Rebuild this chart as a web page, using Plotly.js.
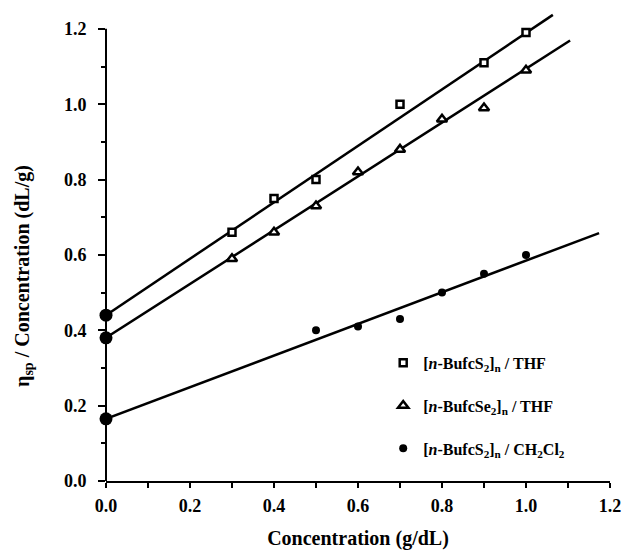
<!DOCTYPE html>
<html>
<head>
<meta charset="utf-8">
<script src="https://cdn.plot.ly/plotly-3.0.1.min.js"></script>
<style>html,body{margin:0;padding:0;background:#fff;}#chart{width:623px;height:551px;}</style>
</head>
<body>
<div id="chart"></div>
<script>
// Data
const concS2THF = [0.3, 0.4, 0.5, 0.7, 0.9, 1.0];
const etaS2THF = [0.66, 0.75, 0.80, 1.00, 1.11, 1.19];
const concSe2THF = [0.3, 0.4, 0.5, 0.6, 0.7, 0.8, 0.9, 1.0];
const etaSe2THF = [0.59, 0.66, 0.73, 0.82, 0.88, 0.96, 0.99, 1.09];
const concS2CH2Cl2 = [0.5, 0.6, 0.7, 0.8, 0.9, 1.0];
const etaS2CH2Cl2 = [0.40, 0.41, 0.43, 0.50, 0.55, 0.60];
const interceptX = [0, 0, 0];
const interceptY = [0.44, 0.38, 0.165];
const fitS2THFx = [0, 1.064];
const fitS2THFy = [0.44, 1.237];
const fitSe2THFx = [0, 1.105];
const fitSe2THFy = [0.38, 1.169];
const fitS2CH2Cl2x = [0, 1.174];
const fitS2CH2Cl2y = [0.165, 0.658];
const xTickVals = [0, 0.2, 0.4, 0.6, 0.8, 1.0, 1.2];
const yTickVals = [0, 0.2, 0.4, 0.6, 0.8, 1.0, 1.2];
const legendNames = [
  '[<i>n</i>-BufcS<sub>2</sub>]<sub>n</sub> / THF',
  '[<i>n</i>-BufcSe<sub>2</sub>]<sub>n</sub> / THF',
  '[<i>n</i>-BufcS<sub>2</sub>]<sub>n</sub> / CH<sub>2</sub>Cl<sub>2</sub>'
];

const FONT = 'Liberation Serif, Times New Roman, serif';
const lineStyle = {color: '#000', width: 2.5};

const traces = [
  {x: fitS2THFx, y: fitS2THFy, mode: 'lines', line: lineStyle, showlegend: false, hoverinfo: 'skip'},
  {x: fitSe2THFx, y: fitSe2THFy, mode: 'lines', line: lineStyle, showlegend: false, hoverinfo: 'skip'},
  {x: fitS2CH2Cl2x, y: fitS2CH2Cl2y, mode: 'lines', line: lineStyle, showlegend: false, hoverinfo: 'skip'},
  {x: concS2THF, y: etaS2THF, mode: 'markers', name: legendNames[0], legendgroup: 'a', cliponaxis: false,
   marker: {symbol: 'square', size: 7, color: '#fff', line: {color: '#000', width: 2.5}}},
  {x: concSe2THF, y: etaSe2THF, mode: 'markers', name: legendNames[1], legendgroup: 'b', cliponaxis: false,
   marker: {symbol: 'triangle-up', size: 9, color: '#fff', line: {color: '#000', width: 2.5}}},
  {x: concS2CH2Cl2, y: etaS2CH2Cl2, mode: 'markers', name: legendNames[2], legendgroup: 'c', cliponaxis: false,
   marker: {symbol: 'circle', size: 8, color: '#000'}},
  {x: interceptX, y: interceptY, mode: 'markers', showlegend: false, cliponaxis: false,
   marker: {symbol: 'circle', size: 13, color: '#000'}}
];

const axisCommon = {
  showgrid: false, zeroline: false,
  ticks: 'outside', ticklen: 7, tickwidth: 2, tickcolor: '#000',
  tickfont: {family: FONT, size: 18, color: '#000', weight: 'bold'},
  tickformat: '.1f',
  minor: {ticks: 'outside', ticklen: 4, tickwidth: 2, tickcolor: '#000', dtick: 0.1, showgrid: false}
};

const layout = {
  width: 623, height: 551,
  margin: {l: 106, r: 13, t: 10, b: 70, pad: 0},
  paper_bgcolor: '#fff', plot_bgcolor: '#fff',
  font: {family: FONT, color: '#000'},
  xaxis: Object.assign({}, axisCommon, {
    range: [0, 1.2], tickmode: 'array', tickvals: xTickVals,
    showline: true, linecolor: '#000', linewidth: 2, ticklen: 5,
    minor: {ticks: 'outside', ticklen: 5, tickwidth: 2, tickcolor: '#000', dtick: 0.1, showgrid: false},
    ticklabelstandoff: 2,
    title: {text: 'Concentration (g/dL)', font: {family: FONT, size: 20, color: '#000', weight: 'bold'}, standoff: 16}
  }),
  yaxis: Object.assign({}, axisCommon, {
    range: [0, 1.25], tickmode: 'array', tickvals: yTickVals,
    showline: false, ticklabelstandoff: 8
  }),
  shapes: [
    {type: 'line', xref: 'paper', yref: 'y', x0: 0, x1: 0, y0: 0, y1: 1.2, line: {color: '#000', width: 2}}
  ],
  annotations: [
    {text: 'η<sub>sp</sub> / Concentration (dL/g)', xref: 'paper', yref: 'paper', x: -0.165, y: 0.435,
     textangle: -90, showarrow: false, xanchor: 'center', yanchor: 'middle',
     font: {family: FONT, size: 20, color: '#000', weight: 'bold'}}
  ],
  legend: {
    x: 0.55, y: 0.287, xanchor: 'left', yanchor: 'top',
    bgcolor: 'rgba(0,0,0,0)', borderwidth: 0,
    font: {family: FONT, size: 16, color: '#000', weight: 'bold'},
    traceorder: 'grouped', tracegroupgap: 19, itemwidth: 30
  },
  showlegend: true
};

Plotly.newPlot('chart', traces, layout, {staticPlot: true, displayModeBar: false});
</script>
</body>
</html>
